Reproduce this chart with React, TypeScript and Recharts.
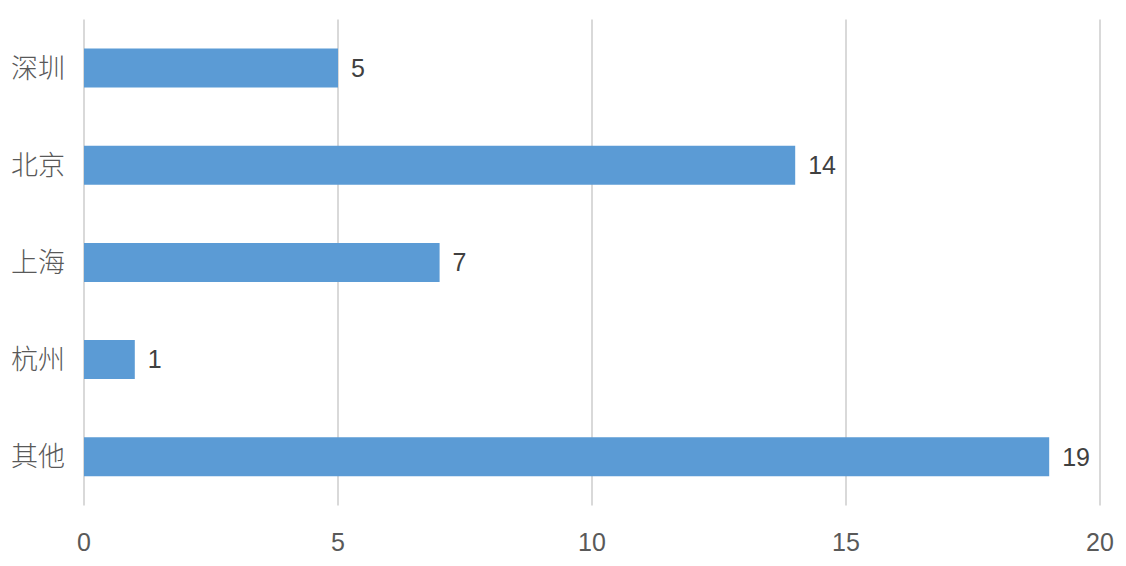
import React from "react";
import { BarChart, Bar, XAxis, YAxis, CartesianGrid, LabelList } from "recharts";

const cities = ["深圳", "北京", "上海", "杭州", "其他"];
const counts = [5, 14, 7, 1, 19];
const xTicks = [0, 5, 10, 15, 20];

const data = cities.map((name, i) => ({ name, value: counts[i] }));

const FONT = '"Liberation Sans", "Noto Sans CJK SC", sans-serif';
const CJK = '"Noto Sans CJK SC", "Liberation Sans", sans-serif';

export default function App() {
  return (
    <div style={{ width: 1126, height: 566 }}>
      <style>{"body{margin:0;}"}</style>
      <BarChart
        width={1126}
        height={566}
        data={data}
        layout="vertical"
        margin={{ top: 19.5, right: 26, bottom: 0, left: 0 }}
        barSize={39}
      >
        <CartesianGrid horizontal={false} stroke="#d9d9d9" strokeWidth={2} />
        <XAxis
          type="number"
          domain={[0, 20]}
          ticks={xTicks}
          axisLine={false}
          tickLine={false}
          tickSize={0}
          tickMargin={28}
          height={60.5}
          tick={{ fill: "#595959", fontSize: 25, fontFamily: FONT }}
        />
        <YAxis
          type="category"
          dataKey="name"
          axisLine={false}
          tickLine={false}
          tickSize={0}
          tickMargin={19}
          width={84}
          tick={{ fill: "#595959", fontSize: 27, fontFamily: CJK, fontWeight: 300 }}
        />
        <Bar dataKey="value" fill="#5B9BD5" isAnimationActive={false}>
          <LabelList
            dataKey="value"
            position="right"
            offset={13}
            style={{ fill: "#404040", fontSize: 25, fontFamily: FONT }}
          />
        </Bar>
      </BarChart>
    </div>
  );
}
